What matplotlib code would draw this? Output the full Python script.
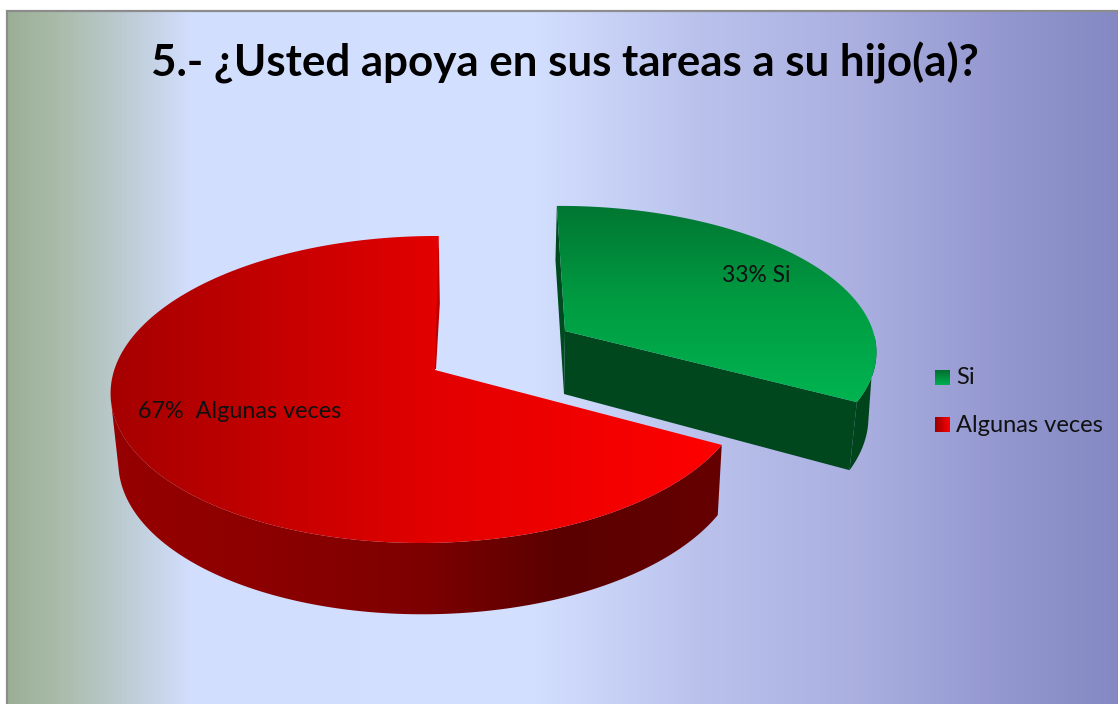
import numpy as np
import matplotlib
matplotlib.use('Agg')
import matplotlib.pyplot as plt
from matplotlib.patches import Polygon

categories = ['Si', 'Algunas veces']
values = [33, 67]
slice_labels = ['33% Si', '67%  Algunas veces']
title = '5.- ¿Usted apoya en sus tareas a su hijo(a)?'

plt.rcParams['font.family'] = ['Lato', 'DejaVu Sans']

fig = plt.figure(figsize=(11.18, 7.04), dpi=100)
ax = fig.add_axes([0, 0, 1, 1])
ax.axis('off')

layer = [1]  # images and patches have to stack in drawing order


def next_z():
    layer[0] += 1
    return layer[0]


def grad(xy, stops, colors, vertical=False, extent=None):
    # gradient image clipped to a polygon
    xy = np.array(xy)
    if extent is None:
        extent = (xy[:, 0].min() - 2, xy[:, 0].max() + 2, xy[:, 1].max() + 2, xy[:, 1].min() - 2)
    colors = np.array(colors) / 255
    if vertical:
        pos = np.linspace(extent[3], extent[2], 400)
    else:
        pos = np.linspace(extent[0], extent[1], 1200)
    line = np.stack([np.interp(pos, stops, colors[:, i]) for i in range(3)], axis=-1)
    img = line[:, None, :] if vertical else line[None, :, :]
    im = ax.imshow(img, extent=extent, aspect='auto', interpolation='bilinear', zorder=next_z())
    poly = Polygon(xy, closed=True, transform=ax.transData, facecolor='none', edgecolor='none')
    ax.add_patch(poly)
    im.set_clip_path(poly)


def flat(xy, color):
    ax.add_patch(Polygon(xy, closed=True, facecolor=color, edgecolor='none', zorder=next_z()))


def rim(t, apex, A, B, s, k=0.127, m=0.0):
    # perspective circle, t in degrees
    t = np.radians(t)
    den = 1 + k * np.sin(t) + m * np.cos(t)
    x = apex[0] + (A * np.cos(t) + s * np.sin(t)) / den
    y = apex[1] - B * np.sin(t) / den
    return np.column_stack([x, y])


# background
bg_x = [8, 60, 130, 190, 530, 700, 860, 1000, 1118]
bg_c = [(155, 175, 150), (170, 188, 170), (190, 205, 215), (210, 222, 253), (212, 224, 255),
        (186, 194, 236), (170, 175, 224), (148, 152, 208), (133, 137, 195)]
grad([(7, 11), (1118, 11), (1118, 704), (7, 704)], bg_x, bg_c, extent=(7, 1118, 704, 11))
ax.plot([7, 7, 1118], [704, 11, 11], color='#8c8c8c', lw=1.6, solid_joinstyle='miter', zorder=next_z())

# slice angles come from the values
start = 90.5
sweep_red = values[1] / sum(values) * 360
sweep_green = values[0] / sum(values) * 360
t_red = np.linspace(start, start + sweep_red, 240)
t_green = np.linspace(start + sweep_red, start + sweep_red + sweep_green, 120)
t_edge = t_red[-1]

# red slice
r_top = dict(apex=(435, 370), A=315, B=151, s=7, m=0.018)
r_bot = dict(apex=(436, 439), A=309, B=153, s=7, m=0.016)
top_pts = rim(t_red, **r_top)
# wall starts at the silhouette of each rim, so its left edge stays straight
wall = np.vstack([rim(t_red[t_red > 190], **r_top), rim(t_red[t_red > 192], **r_bot)[::-1]])
grad(wall, [110, 240, 420, 560, 720],
     [(150, 0, 0), (142, 0, 0), (125, 0, 0), (90, 0, 0), (102, 0, 0)])
flat([top_pts[0], rim([start], **r_bot)[0], (436, 369), (432, 369)], '#b80000')
grad(np.vstack([[r_top['apex']], top_pts]), [110, 430, 722],
     [(165, 0, 0), (226, 0, 0), (255, 0, 0)])

# green slice
g_top = dict(apex=(565, 331), A=308, B=141, s=-6.5)
g_bot = dict(apex=(564, 394), A=301, B=151, s=-7)
g_pts = rim(t_green, **g_top)
flat(np.vstack([rim(np.linspace(t_edge, 358, 40), **g_top), rim(np.linspace(t_edge, 350, 40), **g_bot)[::-1]]), '#00441c')
flat([g_top['apex'], g_pts[0], rim([t_edge], **g_bot)[0], g_bot['apex']], '#00471e')
flat([g_pts[-1], rim([t_green[-1]], **g_bot)[0], g_bot['apex'], g_top['apex']], '#004a20')
grad(np.vstack([[g_top['apex']], g_pts]), [206, 300, 403],
     [(0, 118, 50), (0, 155, 66), (0, 180, 80)], vertical=True)

# labels
top_z = next_z()
ax.text(565, 63, title, fontsize=31.6, fontweight='bold', ha='center', va='center', color='black', zorder=top_z)
ax.text(722, 275, slice_labels[0], fontsize=16.4, ha='left', va='center', color='#111111', zorder=top_z)
ax.text(138, 411, slice_labels[1], fontsize=16.8, ha='left', va='center', color='#111111', zorder=top_z)

# legend
key_y = [370, 417]
text_y = [378, 425]
for i, cat in enumerate(categories):
    y0 = key_y[i]
    box = [(935, y0), (950, y0), (950, y0 + 15), (935, y0 + 15)]
    if i == 0:
        grad(box, [y0, y0 + 15], [(0, 110, 48), (0, 176, 80)], vertical=True, extent=(935, 950, y0 + 15, y0))
    else:
        grad(box, [935, 950], [(150, 0, 0), (255, 0, 0)], extent=(935, 950, y0 + 15, y0))
    ax.text(956, text_y[i], cat, fontsize=17, ha='left', va='center', color='#111111', zorder=top_z)

ax.set_xlim(0, 1118)
ax.set_ylim(704, 0)

fig.savefig('out.png', dpi=100, facecolor='white')
